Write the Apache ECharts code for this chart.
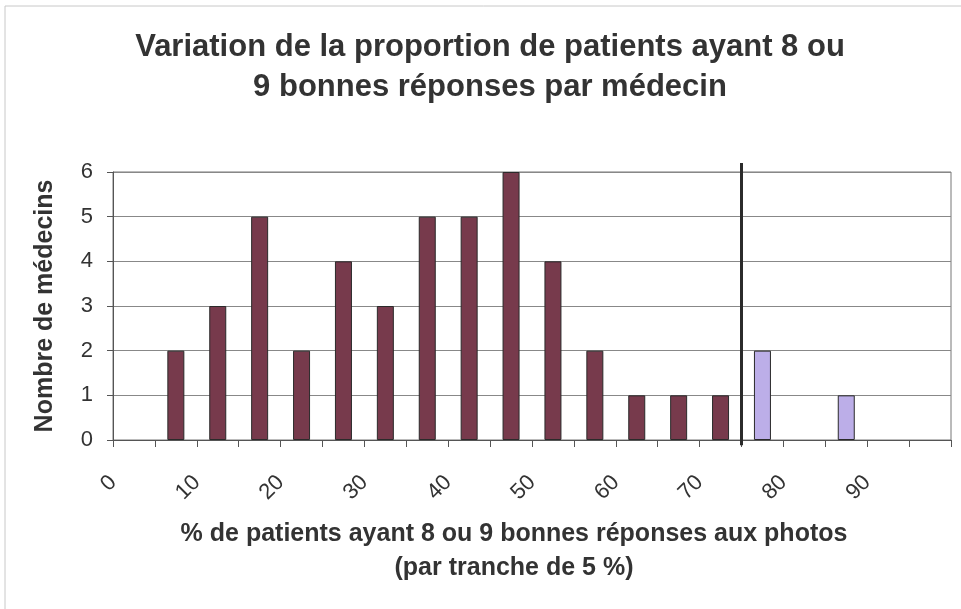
<!DOCTYPE html>
<html>
<head>
<meta charset="utf-8">
<script src="https://cdn.jsdelivr.net/npm/echarts@6/dist/echarts.min.js"></script>
<style>
  html, body { margin: 0; padding: 0; background: #fff; }
  #chart { width: 961px; height: 609px; }
</style>
</head>
<body>
<div id="chart"></div>
<script>
// tranches de 5 % (début de chaque tranche)
const binStarts = [0, 5, 10, 15, 20, 25, 30, 35, 40, 45, 50, 55, 60, 65, 70, 75, 80, 85, 90, 95]
// nombre de médecins, tranches < 75 % (null = aucune barre)
const countsBelow = [null, 2, 3, 5, 2, 4, 3, 5, 5, 6, 4, 2, 1, 1, 1, null, null, null, null, null]
// nombre de médecins, tranches >= 75 %
const countsAbove = [null, null, null, null, null, null, null, null, null, null, null, null, null, null, null, 2, null, 1, null, null]
const xTickLabels = ['0', '10', '20', '30', '40', '50', '60', '70', '80', '90']
const threshold = 75

const chart = echarts.init(document.getElementById('chart'))

const toPoints = (counts) => binStarts.map((s, i) => [s + 2.5, counts[i]])

const font = 'Liberation Sans, Arial, sans-serif'

chart.setOption({
  animation: false,
  title: {
    text: 'Variation de la proportion de patients ayant 8 ou\n9 bonnes réponses par médecin',
    left: 490,
    top: 27,
    padding: 0,
    textAlign: 'center',
    textStyle: {
      fontFamily: font,
      fontSize: 31,
      fontWeight: 'bold',
      color: '#333',
      lineHeight: 40
    }
  },
  graphic: [{
    type: 'rect',
    shape: { x: 5, y: 6, width: 1000, height: 700 },
    style: { fill: 'none', stroke: '#c8c8c8', lineWidth: 1 },
    silent: true
  }],
  grid: {
    left: 113,
    right: 10,
    top: 172,
    bottom: 169,
    show: true,
    borderColor: '#777',
    borderWidth: 1
  },
  xAxis: {
    type: 'value',
    min: 0,
    max: 100,
    interval: 5,
    name: '% de patients ayant 8 ou 9 bonnes réponses aux photos\n(par tranche de 5 %)',
    nameLocation: 'middle',
    nameGap: 77,
    nameTextStyle: {
      fontFamily: font,
      fontSize: 25,
      fontWeight: 'bold',
      color: '#333',
      lineHeight: 34,
      verticalAlign: 'top',
      padding: [0, 36, 0, 0]
    },
    axisLine: { show: true, lineStyle: { color: '#555', width: 1 } },
    axisTick: { show: true, length: 7, lineStyle: { color: '#555' } },
    axisLabel: {
      rotate: 45,
      margin: 39,
      fontFamily: font,
      fontSize: 22,
      color: '#333',
      formatter: (v) => xTickLabels.includes(String(v)) ? String(v) : ''
    },
    splitLine: { show: false }
  },
  yAxis: {
    type: 'value',
    min: 0,
    max: 6,
    interval: 1,
    name: 'Nombre de médecins',
    nameLocation: 'middle',
    nameGap: 55,
    nameRotate: 90,
    nameTextStyle: {
      fontFamily: font,
      fontSize: 25,
      fontWeight: 'bold',
      color: '#333'
    },
    axisLine: { show: true, lineStyle: { color: '#555', width: 1 } },
    axisTick: { show: true, length: 6, lineStyle: { color: '#555' } },
    axisLabel: {
      margin: 20,
      fontFamily: font,
      fontSize: 22,
      color: '#333'
    },
    splitLine: { show: true, lineStyle: { color: '#888', width: 1 } }
  },
  series: [
    {
      name: 'moins de 75 %',
      type: 'bar',
      data: toPoints(countsBelow),
      barWidth: 17,
      barGap: '-100%',
      itemStyle: { color: '#773a4c', borderColor: '#2a2a2a', borderWidth: 1 }
    },
    {
      name: '75 % et plus',
      type: 'bar',
      data: toPoints(countsAbove),
      barWidth: 17,
      barGap: '-100%',
      itemStyle: { color: '#bcaee8', borderColor: '#2a2a2a', borderWidth: 1 }
    },
    {
      name: 'seuil',
      type: 'line',
      data: [[threshold, 6.2], [threshold, -0.12]],
      clip: false,
      symbol: 'none',
      z: 5,
      lineStyle: { color: '#2b2b2b', width: 3 }
    }
  ]
})
</script>
</body>
</html>
